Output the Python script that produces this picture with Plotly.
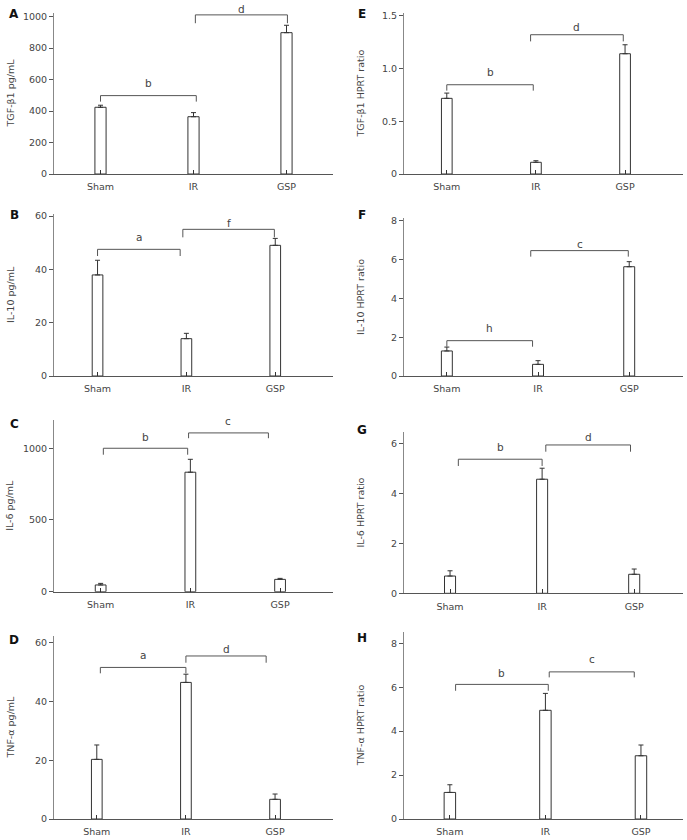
import plotly.graph_objects as go

categories = ["Sham", "IR", "GSP"]

panel_letters = ["A", "B", "C", "D", "E", "F", "G", "H"]
y_titles = ["TGF-β1 pg/mL", "IL-10 pg/mL", "IL-6 pg/mL", "TNF-α pg/mL",
            "TGF-β1 HPRT ratio", "IL-10 HPRT ratio", "IL-6 HPRT ratio", "TNF-α HPRT ratio"]

# bar means and upper error (SD)
means = [
    [424, 364, 898],      # A TGF-b1 pg/mL
    [37.9, 14.0, 49.0],   # B IL-10 pg/mL
    [47, 833, 86],        # C IL-6 pg/mL
    [20.3, 46.5, 6.7],    # D TNF-a pg/mL
    [0.717, 0.111, 1.14], # E TGF-b1 ratio
    [1.29, 0.60, 5.63],   # F IL-10 ratio
    [0.69, 4.56, 0.76],   # G IL-6 ratio
    [1.21, 4.95, 2.88],   # H TNF-a ratio
]
errors = [
    [13, 26, 47],
    [5.5, 2.0, 2.6],
    [11, 90, 7],
    [4.9, 2.8, 1.8],
    [0.05, 0.015, 0.085],
    [0.2, 0.19, 0.26],
    [0.21, 0.44, 0.21],
    [0.35, 0.77, 0.49],
]

tick_vals = [
    [0, 200, 400, 600, 800, 1000],
    [0, 20, 40, 60],
    [0, 500, 1000],
    [0, 20, 40, 60],
    [0, 0.5, 1.0, 1.5],
    [0, 2, 4, 6, 8],
    [0, 2, 4, 6],
    [0, 2, 4, 6, 8],
]
tick_text = [
    ["0", "200", "400", "600", "800", "1000"],
    ["0", "20", "40", "60"],
    ["0", "500", "1000"],
    ["0", "20", "40", "60"],
    ["0", "0.5", "1.0", "1.5"],
    ["0", "2", "4", "6", "8"],
    ["0", "2", "4", "6"],
    ["0", "2", "4", "6", "8"],
]

# significance brackets: (left x, right x, bracket level, end level, label level, letter)
brackets = [
    [(0.0, 1.03, 498, 460, 577, "b"), (1.02, 2.01, 1011, 958, 1047, "d")],
    [(0.0, 0.93, 47.5, 45.0, 52.0, "a"), (0.96, 1.99, 55.0, 52.0, 57.3, "f")],
    [(0.03, 0.97, 1000, 955, 1080, "b"), (0.98, 1.87, 1107, 1070, 1190, "c")],
    [(0.04, 1.0, 51.6, 49.6, 55.8, "a"), (1.0, 1.9, 55.5, 53.2, 57.8, "d")],
    [(0.0, 0.97, 0.846, 0.79, 0.965, "b"), (0.94, 1.98, 1.32, 1.257, 1.39, "d")],
    [(0.0, 0.94, 1.82, 1.51, 2.46, "h"), (0.92, 1.99, 6.46, 6.15, 6.8, "c")],
    [(0.09, 1.0, 5.36, 5.09, 5.86, "b"), (1.04, 1.96, 5.93, 5.66, 6.24, "d")],
    [(0.06, 1.03, 6.13, 5.84, 6.66, "b"), (1.04, 1.93, 6.7, 6.45, 7.27, "c")],
]

# layout geometry (pixels in a 687x840 page)
W, H = 687, 840
col_x = [(54, 333), (404, 683)]
# (bottom px, top px, y range top) per panel
y_geom = [
    (174, 13, 1023), (376, 214, 60.75), (591.7, 420, 1197), (819, 636, 62.3),
    (174, 13, 1.526), (376, 218, 8.14), (593.3, 431.7, 6.46), (819, 631.7, 8.53),
]
x_ranges = [
    (-0.5, 2.5), (-0.49, 2.65), (-0.52, 2.59), (-0.48, 2.65),
    (-0.48, 2.65), (-0.47, 2.59), (-0.5, 2.53), (-0.48, 2.44),
]
letter_pos = [(14, 14), (14, 215), (14, 424), (14, 640),
              (362, 14), (362, 215), (362, 430), (362, 638)]
title_x = [10, 360]

font_family = "DejaVu Sans, Verdana, sans-serif"
text_col = "#444444"
line_col = "#555555"
bar_col = "#333333"

fig = go.Figure()
layout = dict(
    width=W, height=H,
    margin=dict(l=0, r=0, t=0, b=0, pad=0, autoexpand=False),
    paper_bgcolor="white", plot_bgcolor="white", showlegend=False,
    font=dict(family=font_family, size=9.5, color=text_col),
)
annotations = []

for i in range(8):
    col = 0 if i < 4 else 1
    n = i + 1
    xa = "x" if n == 1 else f"x{n}"
    ya = "y" if n == 1 else f"y{n}"
    bot, top, ymax = y_geom[i]
    x0p, x1p = col_x[col]
    d0, d1 = 1 - bot / H, 1 - top / H
    layout[f"xaxis{'' if n == 1 else n}"] = dict(
        domain=[x0p / W, x1p / W], range=list(x_ranges[i]), anchor=ya,
        tickvals=[0, 1, 2], ticktext=categories, ticks="inside", ticklen=4,
        tickcolor=bar_col, showline=True, linecolor=line_col, linewidth=1,
        showgrid=False, zeroline=False, fixedrange=True, ticklabelstandoff=4,
        tickfont=dict(size=9.5, color=text_col),
    )
    layout[f"yaxis{'' if n == 1 else n}"] = dict(
        domain=[d0, d1], range=[0, ymax], anchor=xa,
        tickvals=tick_vals[i], ticktext=tick_text[i], ticks="outside", ticklen=4,
        tickcolor=line_col, showline=True, linecolor="#888888", linewidth=1,
        showgrid=False, zeroline=False, fixedrange=True,
        tickfont=dict(size=9.5, color=text_col),
    )
    fig.add_trace(go.Bar(
        x=[0, 1, 2], y=means[i], width=0.12, xaxis=xa, yaxis=ya,
        marker=dict(color="white", line=dict(color=bar_col, width=1)),
        error_y=dict(type="data", array=errors[i], arrayminus=[0, 0, 0],
                     symmetric=False, color=bar_col, thickness=1, width=2.5),
        cliponaxis=False,
    ))
    for (bx0, bx1, lvl, endl, labl, letter) in brackets[i]:
        fig.add_trace(go.Scatter(
            x=[bx0, bx0, bx1, bx1], y=[endl, lvl, lvl, endl], mode="lines",
            line=dict(color=line_col, width=1), xaxis=xa, yaxis=ya,
            cliponaxis=False, hoverinfo="skip",
        ))
        annotations.append(dict(
            x=(bx0 + bx1) / 2, y=d0 + labl / ymax * (d1 - d0),
            xref=xa, yref="paper", text=letter,
            showarrow=False, font=dict(size=10.5, color=text_col),
            xanchor="center", yanchor="middle",
        ))
    lx, ly = letter_pos[i]
    annotations.append(dict(
        x=lx / W, y=1 - ly / H, xref="paper", yref="paper",
        text=f"<b>{panel_letters[i]}</b>", showarrow=False,
        font=dict(size=12, color="#111111", family="DejaVu Sans, Arial, sans-serif"),
        xanchor="center", yanchor="middle",
    ))
    annotations.append(dict(
        x=title_x[col] / W, y=1 - (bot + top) / 2 / H, xref="paper", yref="paper",
        text=y_titles[i], textangle=-90, showarrow=False,
        font=dict(size=9.5, color=text_col),
        xanchor="center", yanchor="middle",
    ))

layout["annotations"] = annotations
fig.update_layout(**layout)
fig.write_html("out.html", config={"displayModeBar": False},
               post_script="document.body.style.margin='0px';document.body.style.overflow='hidden';")
